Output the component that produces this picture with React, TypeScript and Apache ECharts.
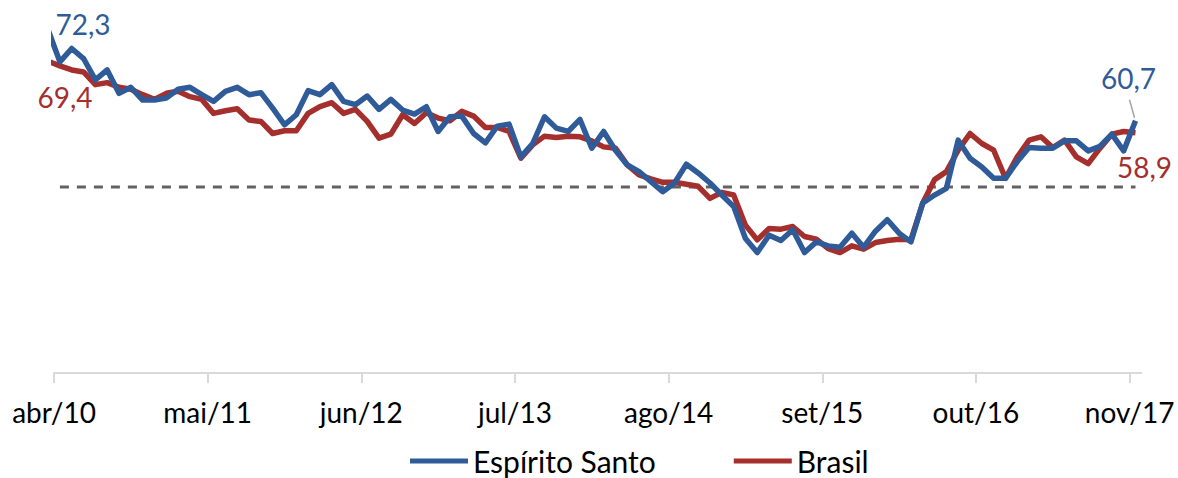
import { useEffect, useRef } from "react";
import * as echarts from "echarts";

// months mar/10 .. nov/17 (mar/10 lies just left of the axis start and is clipped)
const MONTH_ABBR = ["jan", "fev", "mar", "abr", "mai", "jun", "jul", "ago", "set", "out", "nov", "dez"];
const months: string[] = [];
for (let y = 2010; y <= 2017; y++) {
  for (let m = 0; m < 12; m++) {
    if ((y === 2010 && m < 2) || (y === 2017 && m > 10)) continue;
    months.push(`${MONTH_ABBR[m]}/${String(y).slice(2)}`);
  }
}

const tickLabels = ["abr/10", "mai/11", "jun/12", "jul/13", "ago/14", "set/15", "out/16", "nov/17"];
const tickStep = 13;
const axisMonths = 92; // abr/10 .. dez/17

const espiritoSanto = [
  74.3, 69.5, 71.5, 70.0, 66.8, 68.3, 64.8, 65.7, 63.8, 63.8, 64.1, 65.4, 65.7,
  64.6, 63.6, 65.1, 65.7, 64.6, 64.9, 62.6, 60.1, 61.6, 65.2, 64.6, 66.1,
  63.6, 63.1, 64.4, 62.4, 63.9, 62.3, 61.7, 62.8, 59.1, 61.3, 61.4, 58.8,
  57.4, 59.9, 60.2, 55.3, 57.3, 61.3, 59.6, 59.1, 60.9, 56.6, 59.1, 56.3,
  54.1, 53.1, 51.6, 50.1, 51.4, 54.2, 52.9, 51.4, 49.6, 47.9, 43.1, 41.0,
  43.6, 42.8, 44.4, 41.0, 42.6, 42.0, 41.8, 43.9, 41.8, 44.2, 45.9, 43.9,
  42.6, 48.4, 49.6, 50.6, 57.8, 55.1, 53.8, 52.1, 52.1, 54.6, 56.7, 56.6,
  56.6, 57.7, 57.7, 56.2, 56.9, 58.7, 56.2, 60.7,
];

const brasil = [
  69.6, 68.9, 68.3, 68.0, 66.1, 66.4, 65.7, 65.4, 64.6, 63.9, 64.8, 65.1, 64.3,
  63.9, 61.8, 62.2, 62.5, 60.8, 60.6, 58.8, 59.2, 59.2, 61.8, 62.8, 63.4,
  61.8, 62.4, 60.6, 58.1, 58.7, 61.6, 60.3, 61.9, 61.1, 60.7, 62.1, 61.4,
  59.7, 59.7, 59.1, 55.1, 57.1, 58.4, 58.2, 58.4, 58.3, 57.7, 56.8, 56.6,
  54.1, 52.6, 52.0, 51.5, 51.5, 51.2, 50.9, 49.1, 50.0, 49.6, 45.1, 42.9,
  44.6, 44.5, 44.9, 43.4, 43.0, 41.6, 41.0, 42.0, 41.5, 42.5, 42.8, 43.0,
  42.9, 48.4, 51.9, 53.1, 56.3, 58.8, 57.3, 56.3, 52.1, 55.3, 57.8, 58.3,
  56.7, 57.8, 55.3, 54.3, 56.6, 58.7, 59.1, 58.9,
];

// values shown at the left edge of the plot
const esStart = 72.3;
const brStart = 69.4;
const referenceLevel = 50.8;

const BLUE = "#2F5C99";
const RED = "#A52F2D";
const FONT = "Lato";

const fmt = (v: number) => v.toFixed(1).replace(".", ",");
// each month is drawn at its middle: months[i] -> i - 0.5
const xOf = (i: number) => i - 0.5;

const App = () => {
  const chartRef = useRef<HTMLDivElement>(null);

  useEffect(() => {
    if (!chartRef.current) return;
    const chart = echarts.init(chartRef.current, null, { renderer: "svg" });
    const last = months.length - 1;
    const tickValues = tickLabels.map((_, j) => j * tickStep);

    const labelStyle = (color: string) => ({
      show: true,
      position: "inside",
      fontSize: 28,
      fontFamily: FONT,
      color,
      formatter: (p: any) => fmt(p.value),
    });

    chart.setOption({
      animation: false,
      grid: { left: 54, right: 36.6, top: 18.4, bottom: 105 },
      legend: {
        data: ["Espírito Santo", "Brasil"],
        left: 410,
        top: 446,
        padding: 0,
        icon: "rect",
        itemWidth: 58,
        itemHeight: 5,
        itemGap: 78,
        textStyle: { fontSize: 30, fontFamily: FONT, color: "#000" },
      },
      xAxis: {
        type: "value",
        min: 0,
        max: axisMonths,
        splitLine: { show: false },
        axisLine: { lineStyle: { color: "#D9D9D9", width: 2 } },
        axisTick: { customValues: tickValues, length: 10, lineStyle: { color: "#D9D9D9", width: 2 } },
        axisLabel: {
          customValues: tickValues,
          margin: 25,
          fontSize: 28,
          fontFamily: FONT,
          color: "#000",
          formatter: (v: number) => tickLabels[Math.round(v / tickStep)] ?? "",
        },
      },
      yAxis: { type: "value", min: 23, max: 76, show: false },
      series: [
        {
          name: "Referência",
          type: "line",
          silent: true,
          symbol: "none",
          data: [
            [xOf(1), referenceLevel],
            [xOf(last), referenceLevel],
          ],
          lineStyle: { color: "#626262", width: 3, type: [9, 8] },
        },
        {
          name: "Brasil",
          type: "line",
          symbol: "none",
          data: brasil.map((v, i) => [xOf(i), v]),
          itemStyle: { color: RED },
          lineStyle: { color: RED, width: 5.5, join: "round" },
          markPoint: {
            symbol: "circle",
            symbolSize: 1,
            itemStyle: { color: "rgba(0,0,0,0)" },
            label: labelStyle(RED),
            data: [
              { coord: [0, brStart], value: brStart, label: { offset: [11, 34] } },
              { coord: [xOf(last), brasil[last]], value: brasil[last], label: { offset: [9, 34] } },
            ],
          },
        },
        {
          name: "Espírito Santo",
          type: "line",
          symbol: "none",
          data: espiritoSanto.map((v, i) => [xOf(i), v]),
          itemStyle: { color: BLUE },
          lineStyle: { color: BLUE, width: 5.5, join: "round" },
          markPoint: {
            symbol: "circle",
            symbolSize: 1,
            itemStyle: { color: "rgba(0,0,0,0)" },
            label: labelStyle(BLUE),
            data: [
              { coord: [0, esStart], value: esStart, label: { offset: [29, -19] } },
              { coord: [xOf(last), espiritoSanto[last]], value: espiritoSanto[last], label: { offset: [-7, -43] } },
            ],
          },
        },
      ],
    });

    // leader line from the "60,7" label down to its point
    const p = chart.convertToPixel({ gridIndex: 0 }, [xOf(last), espiritoSanto[last]]) as number[];
    chart.setOption({
      graphic: [
        {
          type: "line",
          silent: true,
          shape: { x1: p[0] - 6, y1: p[1] - 21, x2: p[0] - 1, y2: p[1] - 3 },
          style: { stroke: "#A6A6A6", lineWidth: 1.5 },
        },
      ],
    });

    return () => {
      chart.dispose();
    };
  }, []);

  return (
    <div
      ref={chartRef}
      style={{ position: "absolute", left: 0, top: 0, width: 1178, height: 478 }}
    />
  );
};

export default App;
